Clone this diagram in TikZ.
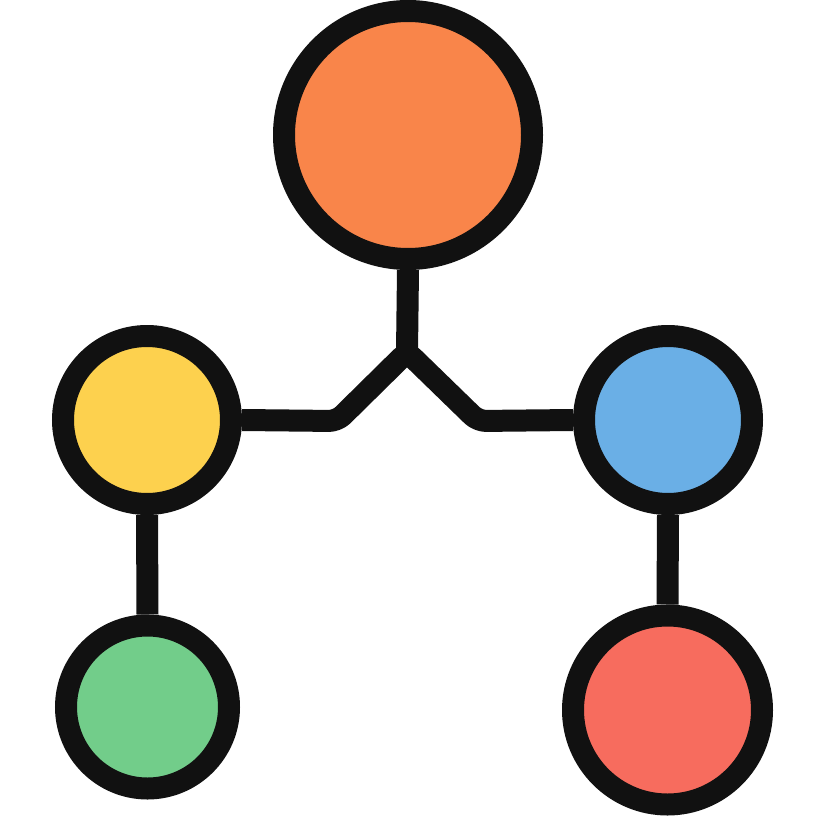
\documentclass[tikz,border=0pt]{standalone}
\definecolor{ink}{HTML}{111111}
\definecolor{corange}{HTML}{F9854A}
\definecolor{cyellow}{HTML}{FDD14E}
\definecolor{cblue}{HTML}{6AAFE6}
\definecolor{cgreen}{HTML}{72CD8A}
\definecolor{cred}{HTML}{F76C5E}
\begin{document}
\begin{tikzpicture}[x=1pt,y=-1pt,
  dot/.style={circle,draw=ink,line width=22pt,inner sep=0pt},
  link/.style={draw=ink,line width=22pt,rounded corners=8pt}]
\useasboundingbox (0,0) rectangle (822,822);
\node[dot,fill=corange,minimum size=248pt] (top) at (408,135) {};
\node[dot,fill=cyellow,minimum size=168pt] (yel) at (147,420) {};
\node[dot,fill=cblue,minimum size=168pt] (blu) at (668,420) {};
\node[dot,fill=cgreen,minimum size=163pt] (grn) at (147.5,707) {};
\node[dot,fill=cred,minimum size=189pt] (red) at (667.5,710) {};
\coordinate (j) at (407,352);
\coordinate (bl) at (337,421);
\coordinate (br) at (478,421);
\draw[link] (top.south) -- (j);
\draw[link,line join=round] (yel.east) -- (bl) -- (j) -- (br) -- (blu.west);
\draw[link] (yel.south) -- (grn.north);
\draw[link] (blu.south) -- (red.north);
\end{tikzpicture}
\end{document}
